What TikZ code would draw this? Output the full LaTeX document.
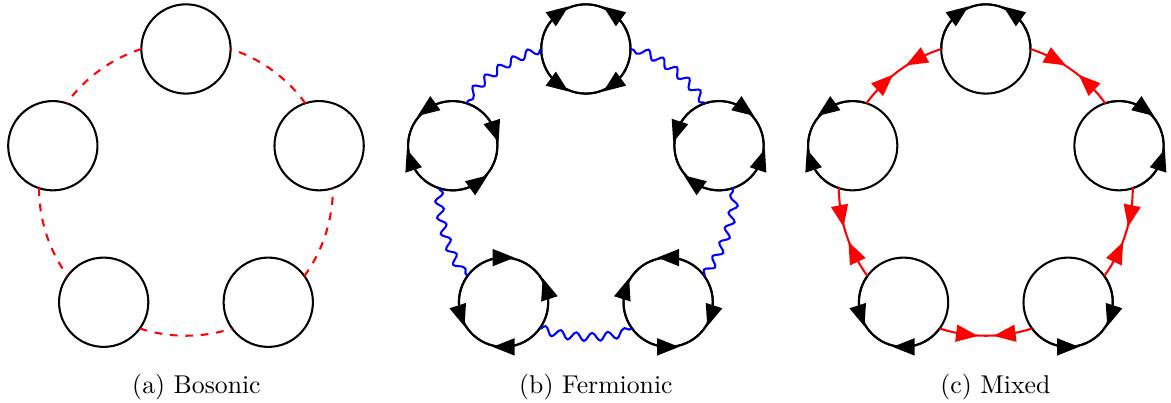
\documentclass[tikz,border=0pt]{standalone}
\usetikzlibrary{arrows.meta, decorations.pathmorphing, decorations.markings}

\begin{document}
\begin{tikzpicture}[
  loopnode/.style={draw, thick, circle, minimum size=1.22cm, inner sep=0pt, outer sep=0pt},
  majorana/.style={postaction={decorate, decoration={markings,
      mark=at position 0.3 with {\arrow[xshift=1.5mm]{Triangle[length=3mm, width=2.3mm]}},
      mark=at position 0.7 with {\arrowreversed[xshift=-1.5mm]{Triangle[length=3mm, width=2.3mm]}}}}},
  scalar/.style={red, thick, dashed},
  photon/.style={blue, thick, decorate, decoration={snake, amplitude=0.55mm, segment length=2.2mm}},
  fermion/.style={red, thick, majorana},
  loopline/.style={thick, majorana},
  link/.style={bend right=18, looseness=0.87},
  subcap/.style={anchor=base}
]
\useasboundingbox (0,0) rectangle (16.0,5.505);

% (a) bosonic ring: plain loops, dashed links
\begin{scope}[shift={(2.541,2.923)}]
\node[loopnode] (a1) at (90:1.913) {};
\node[loopnode] (a2) at (162:1.913) {};
\node[loopnode] (a3) at (234:1.913) {};
\node[loopnode] (a4) at (306:1.913) {};
\node[loopnode] (a5) at (18:1.913) {};

\draw[scalar] (a1.180) to[link] (a2.72);
\draw[scalar] (a2.252) to[link] (a3.144);
\draw[scalar] (a3.324) to[link] (a4.216);
\draw[scalar] (a4.36)  to[link] (a5.288);
\draw[scalar] (a5.108) to[link] (a1.0);
\end{scope}

% (b) fermionic ring: arrows on both halves of every loop, wavy links
\begin{scope}[shift={(8.005,2.923)}]
\node[loopnode] (b1) at (90:1.913) {};
\node[loopnode] (b2) at (162:1.913) {};
\node[loopnode] (b3) at (234:1.913) {};
\node[loopnode] (b4) at (306:1.913) {};
\node[loopnode] (b5) at (18:1.913) {};

\draw[loopline] (b1.0)   arc[start angle=0,   delta angle=180, radius=0.61];
\draw[loopline] (b1.180) arc[start angle=180, delta angle=180, radius=0.61];
\draw[loopline] (b2.72)  arc[start angle=72,  delta angle=180, radius=0.61];
\draw[loopline] (b2.252) arc[start angle=252, delta angle=180, radius=0.61];
\draw[loopline] (b3.144) arc[start angle=144, delta angle=180, radius=0.61];
\draw[loopline] (b3.324) arc[start angle=324, delta angle=180, radius=0.61];
\draw[loopline] (b4.216) arc[start angle=216, delta angle=180, radius=0.61];
\draw[loopline] (b4.36)  arc[start angle=36,  delta angle=180, radius=0.61];
\draw[loopline] (b5.288) arc[start angle=288, delta angle=180, radius=0.61];
\draw[loopline] (b5.108) arc[start angle=108, delta angle=180, radius=0.61];

\draw[photon] (b1.180) to[link] (b2.72);
\draw[photon] (b2.252) to[link] (b3.144);
\draw[photon] (b3.324) to[link] (b4.216);
\draw[photon] (b4.36)  to[link] (b5.288);
\draw[photon] (b5.108) to[link] (b1.0);
\end{scope}

% (c) mixed ring: arrows on the outer halves only, red arrowed links
\begin{scope}[shift={(13.47,2.923)}]
\node[loopnode] (c1) at (90:1.913) {};
\node[loopnode] (c2) at (162:1.913) {};
\node[loopnode] (c3) at (234:1.913) {};
\node[loopnode] (c4) at (306:1.913) {};
\node[loopnode] (c5) at (18:1.913) {};

\draw[loopline] (c1.0)   arc[start angle=0,   delta angle=180, radius=0.61];
\draw[loopline] (c2.72)  arc[start angle=72,  delta angle=180, radius=0.61];
\draw[loopline] (c3.144) arc[start angle=144, delta angle=180, radius=0.61];
\draw[loopline] (c4.216) arc[start angle=216, delta angle=180, radius=0.61];
\draw[loopline] (c5.288) arc[start angle=288, delta angle=180, radius=0.61];

\draw[fermion] (c1.180) to[link] (c2.72);
\draw[fermion] (c2.252) to[link] (c3.144);
\draw[fermion] (c3.324) to[link] (c4.216);
\draw[fermion] (c4.36)  to[link] (c5.288);
\draw[fermion] (c5.108) to[link] (c1.0);
\end{scope}

% captions
\node[subcap] (capa) at (2.684,0.123) {(a) Bosonic};
\node[subcap] (capb) at (8.142,0.123) {(b) Fermionic};
\node[subcap] (capc) at (13.60,0.123) {(c) Mixed};

\end{tikzpicture}
\end{document}
